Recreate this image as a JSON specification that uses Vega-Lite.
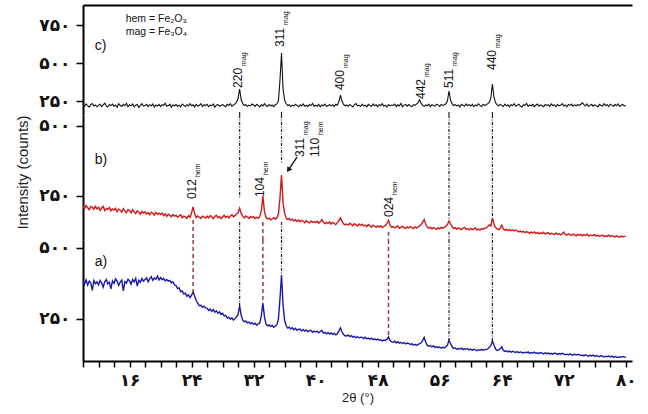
{
"$schema":"https://vega.github.io/schema/vega-lite/v6.json",
"padding":{"left":14,"top":5,"right":5,"bottom":5},
"background":"white",
"spacing":0,
"bounds":"flush",
"config":{
"view":{"stroke":null},
"axis":{"domainColor":"#000","domainWidth":2,"tickColor":"#000","tickWidth":1.5,"labelFont":"DejaVu Sans","labelFontWeight":"bold","labelFontSize":17,"labelColor":"#111","grid":false,"labelFlush":false,"labelOverlap":false,"titleFont":"Liberation Sans","titleFontWeight":"normal","titleColor":"#222"},
"axisY":{"tickSize":7,"labelPadding":6},
"axisX":{"tickSize":6,"labelPadding":5},
"text":{"font":"Liberation Sans","color":"#111"}
},
"datasets":{
"xrd":[
{"t":10,"c":228,"b":214,"a":380},{"t":10.2,"c":215,"b":205,"a":372},{"t":10.4,"c":231,"b":216,"a":388},{"t":10.6,"c":219,"b":208,"a":369},{"t":10.8,"c":210,"b":201,"a":383},
{"t":11,"c":226,"b":212,"a":376},{"t":11.2,"c":233,"b":210,"a":351},{"t":11.4,"c":217,"b":203,"a":385},{"t":11.6,"c":224,"b":213,"a":374},{"t":11.8,"c":212,"b":204,"a":381},
{"t":12,"c":221,"b":210,"a":370},{"t":12.2,"c":229,"b":199,"a":386},{"t":12.4,"c":213,"b":207,"a":377},{"t":12.6,"c":225,"b":213,"a":362},{"t":12.8,"c":236,"b":198,"a":381},
{"t":13,"c":218,"b":205,"a":389},{"t":13.2,"c":211,"b":202,"a":373},{"t":13.4,"c":227,"b":209,"a":379},{"t":13.6,"c":220,"b":197,"a":356},{"t":13.8,"c":230,"b":204,"a":384},
{"t":14,"c":216,"b":200,"a":375},{"t":14.2,"c":224,"b":206,"a":391},{"t":14.4,"c":209,"b":194,"a":383},{"t":14.6,"c":232,"b":203,"a":368},{"t":14.8,"c":222,"b":199,"a":380},
{"t":15,"c":214,"b":192,"a":387},{"t":15.2,"c":228,"b":205,"a":349},{"t":15.4,"c":219,"b":197,"a":382},{"t":15.6,"c":235,"b":190,"a":376},{"t":15.8,"c":213,"b":201,"a":390},
{"t":16,"c":225,"b":198,"a":384},{"t":16.2,"c":218,"b":190,"a":372},{"t":16.4,"c":230,"b":201,"a":389},{"t":16.6,"c":212,"b":193,"a":380},{"t":16.8,"c":223,"b":187,"a":393},
{"t":17,"c":227,"b":197,"a":366},{"t":17.2,"c":208,"b":192,"a":386},{"t":17.4,"c":221,"b":185,"a":379},{"t":17.6,"c":233,"b":195,"a":392},{"t":17.8,"c":216,"b":189,"a":383},
{"t":18,"c":220,"b":194,"a":389},{"t":18.2,"c":229,"b":186,"a":395},{"t":18.4,"c":214,"b":190,"a":381},{"t":18.6,"c":226,"b":183,"a":392},{"t":18.8,"c":218,"b":192,"a":399},
{"t":19,"c":231,"b":188,"a":386},{"t":19.2,"c":211,"b":181,"a":394},{"t":19.4,"c":224,"b":191,"a":390},{"t":19.6,"c":217,"b":185,"a":401},{"t":19.8,"c":228,"b":189,"a":387},
{"t":20,"c":213,"b":184,"a":396},{"t":20.2,"c":226,"b":189,"a":388},{"t":20.4,"c":222,"b":180,"a":393},{"t":20.6,"c":235,"b":186,"a":384},{"t":20.8,"c":215,"b":177,"a":389},
{"t":21,"c":220,"b":185,"a":383},{"t":21.2,"c":229,"b":181,"a":386},{"t":21.4,"c":210,"b":176,"a":377},{"t":21.6,"c":224,"b":184,"a":381},{"t":21.8,"c":219,"b":178,"a":370},
{"t":22,"c":227,"b":181,"a":368},{"t":22.2,"c":216,"b":174,"a":357},{"t":22.4,"c":223,"b":179,"a":359},{"t":22.6,"c":212,"b":183,"a":346},{"t":22.8,"c":230,"b":172,"a":349},
{"t":23,"c":221,"b":178,"a":338},{"t":23.2,"c":214,"b":176,"a":341},{"t":23.4,"c":226,"b":170,"a":330},{"t":23.6,"c":218,"b":180,"a":335},{"t":23.8,"c":233,"b":174,"a":325},
{"t":24,"c":219,"b":190,"a":334},{"t":24.2,"c":225,"b":211,"a":345},{"t":24.4,"c":211,"b":186,"a":330},{"t":24.6,"c":228,"b":173,"a":314},{"t":24.8,"c":217,"b":179,"a":306},
{"t":25,"c":222,"b":174,"a":297},{"t":25.2,"c":232,"b":170,"a":298},{"t":25.4,"c":214,"b":178,"a":291},{"t":25.6,"c":226,"b":175,"a":295},{"t":25.8,"c":220,"b":171,"a":289},
{"t":26,"c":229,"b":178,"a":288},{"t":26.2,"c":213,"b":172,"a":280},{"t":26.4,"c":224,"b":180,"a":285},{"t":26.6,"c":218,"b":175,"a":277},{"t":26.8,"c":231,"b":169,"a":283},
{"t":27,"c":210,"b":177,"a":274},{"t":27.2,"c":223,"b":181,"a":279},{"t":27.4,"c":227,"b":173,"a":270},{"t":27.6,"c":215,"b":176,"a":275},{"t":27.8,"c":221,"b":170,"a":266},
{"t":28,"c":226,"b":175,"a":270},{"t":28.2,"c":219,"b":181,"a":261},{"t":28.4,"c":212,"b":174,"a":263},{"t":28.6,"c":228,"b":178,"a":253},{"t":28.8,"c":221,"b":172,"a":256},
{"t":29,"c":233,"b":179,"a":249},{"t":29.2,"c":216,"b":183,"a":254},{"t":29.4,"c":224,"b":176,"a":246},{"t":29.6,"c":231,"b":180,"a":252},{"t":29.8,"c":242,"b":186,"a":258},
{"t":30,"c":268,"b":190,"a":266},{"t":30.2,"c":329,"b":207,"a":296},{"t":30.4,"c":258,"b":188,"a":263},{"t":30.6,"c":233,"b":178,"a":246},{"t":30.8,"c":220,"b":172,"a":240},
{"t":31,"c":227,"b":179,"a":243},{"t":31.2,"c":214,"b":175,"a":236},{"t":31.4,"c":223,"b":170,"a":239},{"t":31.6,"c":218,"b":177,"a":233},{"t":31.8,"c":230,"b":173,"a":237},
{"t":32,"c":224,"b":176,"a":231},{"t":32.2,"c":215,"b":169,"a":235},{"t":32.4,"c":229,"b":174,"a":228},{"t":32.6,"c":221,"b":171,"a":233},{"t":32.8,"c":211,"b":177,"a":236},
{"t":33,"c":226,"b":198,"a":262},{"t":33.2,"c":218,"b":250,"a":306},{"t":33.4,"c":232,"b":194,"a":258},{"t":33.6,"c":220,"b":174,"a":232},{"t":33.8,"c":214,"b":168,"a":226},
{"t":34,"c":227,"b":171,"a":229},{"t":34.2,"c":219,"b":165,"a":224},{"t":34.4,"c":224,"b":169,"a":227},{"t":34.6,"c":213,"b":173,"a":221},{"t":34.8,"c":226,"b":167,"a":225},
{"t":35,"c":231,"b":172,"a":230},{"t":35.2,"c":250,"b":185,"a":250},{"t":35.4,"c":385,"b":242,"a":320},{"t":35.6,"c":566,"b":325,"a":405},{"t":35.8,"c":330,"b":225,"a":300},
{"t":36,"c":256,"b":188,"a":245},{"t":36.2,"c":232,"b":172,"a":226},{"t":36.4,"c":220,"b":166,"a":218},{"t":36.6,"c":226,"b":170,"a":221},{"t":36.8,"c":214,"b":163,"a":215},
{"t":37,"c":223,"b":167,"a":219},{"t":37.2,"c":217,"b":161,"a":212},{"t":37.4,"c":229,"b":166,"a":217},{"t":37.6,"c":221,"b":159,"a":210},{"t":37.8,"c":212,"b":164,"a":214},
{"t":38,"c":225,"b":158,"a":214},{"t":38.2,"c":218,"b":163,"a":208},{"t":38.4,"c":231,"b":160,"a":213},{"t":38.6,"c":216,"b":155,"a":207},{"t":38.8,"c":222,"b":162,"a":211},
{"t":39,"c":213,"b":157,"a":205},{"t":39.2,"c":227,"b":154,"a":209},{"t":39.4,"c":220,"b":161,"a":210},{"t":39.6,"c":234,"b":156,"a":203},{"t":39.8,"c":215,"b":159,"a":207},
{"t":40,"c":223,"b":155,"a":204},{"t":40.2,"c":216,"b":160,"a":207},{"t":40.4,"c":228,"b":153,"a":201},{"t":40.6,"c":212,"b":158,"a":206},{"t":40.8,"c":224,"b":166,"a":210},
{"t":41,"c":219,"b":157,"a":200},{"t":41.2,"c":230,"b":151,"a":203},{"t":41.4,"c":214,"b":156,"a":198},{"t":41.6,"c":221,"b":152,"a":202},{"t":41.8,"c":226,"b":158,"a":197},
{"t":42,"c":218,"b":150,"a":201},{"t":42.2,"c":225,"b":156,"a":196},{"t":42.4,"c":213,"b":152,"a":199},{"t":42.6,"c":229,"b":148,"a":194},{"t":42.8,"c":222,"b":155,"a":198},
{"t":43,"c":246,"b":162,"a":207},{"t":43.2,"c":289,"b":172,"a":218},{"t":43.4,"c":250,"b":160,"a":205},{"t":43.6,"c":228,"b":151,"a":195},{"t":43.8,"c":219,"b":147,"a":191},
{"t":44,"c":224,"b":150,"a":190},{"t":44.2,"c":215,"b":146,"a":194},{"t":44.4,"c":227,"b":152,"a":188},{"t":44.6,"c":220,"b":149,"a":191},{"t":44.8,"c":211,"b":144,"a":186},
{"t":45,"c":226,"b":151,"a":189},{"t":45.2,"c":233,"b":147,"a":184},{"t":45.4,"c":218,"b":143,"a":188},{"t":45.6,"c":222,"b":150,"a":183},{"t":45.8,"c":214,"b":145,"a":186},
{"t":46,"c":229,"b":149,"a":185},{"t":46.2,"c":217,"b":143,"a":181},{"t":46.4,"c":223,"b":146,"a":186},{"t":46.6,"c":212,"b":141,"a":180},{"t":46.8,"c":228,"b":148,"a":183},
{"t":47,"c":221,"b":144,"a":178},{"t":47.2,"c":215,"b":139,"a":182},{"t":47.4,"c":231,"b":146,"a":177},{"t":47.6,"c":219,"b":142,"a":180},{"t":47.8,"c":225,"b":138,"a":176},
{"t":48,"c":213,"b":144,"a":179},{"t":48.2,"c":226,"b":139,"a":175},{"t":48.4,"c":220,"b":143,"a":177},{"t":48.6,"c":232,"b":137,"a":173},{"t":48.8,"c":216,"b":141,"a":176},
{"t":49,"c":223,"b":145,"a":174},{"t":49.2,"c":210,"b":152,"a":178},{"t":49.4,"c":227,"b":163,"a":187},{"t":49.6,"c":218,"b":146,"a":175},{"t":49.8,"c":224,"b":138,"a":169},
{"t":50,"c":221,"b":141,"a":168},{"t":50.2,"c":230,"b":136,"a":172},{"t":50.4,"c":214,"b":140,"a":166},{"t":50.6,"c":225,"b":143,"a":170},{"t":50.8,"c":218,"b":135,"a":165},
{"t":51,"c":234,"b":139,"a":168},{"t":51.2,"c":212,"b":142,"a":163},{"t":51.4,"c":223,"b":137,"a":167},{"t":51.6,"c":228,"b":134,"a":162},{"t":51.8,"c":216,"b":140,"a":165},
{"t":52,"c":227,"b":136,"a":164},{"t":52.2,"c":219,"b":141,"a":160},{"t":52.4,"c":213,"b":137,"a":163},{"t":52.6,"c":226,"b":134,"a":158},{"t":52.8,"c":221,"b":140,"a":161},
{"t":53,"c":230,"b":136,"a":157},{"t":53.2,"c":238,"b":139,"a":160},{"t":53.4,"c":258,"b":143,"a":163},{"t":53.6,"c":236,"b":148,"a":166},{"t":53.8,"c":222,"b":157,"a":174},
{"t":54,"c":215,"b":166,"a":185},{"t":54.2,"c":224,"b":150,"a":168},{"t":54.4,"c":219,"b":139,"a":157},{"t":54.6,"c":230,"b":135,"a":154},{"t":54.8,"c":212,"b":138,"a":156},
{"t":55,"c":226,"b":133,"a":152},{"t":55.2,"c":220,"b":137,"a":155},{"t":55.4,"c":217,"b":134,"a":150},{"t":55.6,"c":229,"b":131,"a":153},{"t":55.8,"c":223,"b":136,"a":149},
{"t":56,"c":214,"b":133,"a":151},{"t":56.2,"c":227,"b":138,"a":147},{"t":56.4,"c":221,"b":135,"a":150},{"t":56.6,"c":225,"b":139,"a":148},{"t":56.8,"c":232,"b":142,"a":152},
{"t":57,"c":252,"b":148,"a":158},{"t":57.2,"c":316,"b":161,"a":176},{"t":57.4,"c":256,"b":150,"a":163},{"t":57.6,"c":233,"b":140,"a":152},{"t":57.8,"c":220,"b":134,"a":146},
{"t":58,"c":226,"b":137,"a":148},{"t":58.2,"c":218,"b":132,"a":143},{"t":58.4,"c":224,"b":136,"a":146},{"t":58.6,"c":211,"b":133,"a":144},{"t":58.8,"c":229,"b":130,"a":147},
{"t":59,"c":222,"b":135,"a":142},{"t":59.2,"c":215,"b":138,"a":145},{"t":59.4,"c":231,"b":131,"a":143},{"t":59.6,"c":220,"b":134,"a":146},{"t":59.8,"c":226,"b":129,"a":141},
{"t":60,"c":217,"b":134,"a":144},{"t":60.2,"c":228,"b":130,"a":140},{"t":60.4,"c":213,"b":133,"a":143},{"t":60.6,"c":224,"b":136,"a":141},{"t":60.8,"c":219,"b":129,"a":138},
{"t":61,"c":232,"b":132,"a":142},{"t":61.2,"c":221,"b":128,"a":139},{"t":61.4,"c":214,"b":134,"a":143},{"t":61.6,"c":227,"b":131,"a":140},{"t":61.8,"c":222,"b":135,"a":142},
{"t":62,"c":226,"b":136,"a":142},{"t":62.2,"c":233,"b":141,"a":145},{"t":62.4,"c":241,"b":147,"a":150},{"t":62.6,"c":272,"b":143,"a":156},{"t":62.8,"c":362,"b":172,"a":173},
{"t":63,"c":275,"b":150,"a":158},{"t":63.2,"c":240,"b":137,"a":144},{"t":63.4,"c":225,"b":133,"a":139},{"t":63.6,"c":218,"b":130,"a":141},{"t":63.8,"c":228,"b":135,"a":145},
{"t":64,"c":221,"b":146,"a":152},{"t":64.2,"c":214,"b":133,"a":140},{"t":64.4,"c":230,"b":128,"a":136},{"t":64.6,"c":218,"b":131,"a":138},{"t":64.8,"c":225,"b":127,"a":134},
{"t":65,"c":212,"b":130,"a":137},{"t":65.2,"c":227,"b":126,"a":133},{"t":65.4,"c":220,"b":129,"a":136},{"t":65.6,"c":233,"b":125,"a":134},{"t":65.8,"c":216,"b":128,"a":132},
{"t":66,"c":223,"b":126,"a":135},{"t":66.2,"c":229,"b":122,"a":131},{"t":66.4,"c":217,"b":125,"a":134},{"t":66.6,"c":211,"b":121,"a":132},{"t":66.8,"c":226,"b":124,"a":130},
{"t":67,"c":221,"b":119,"a":133},{"t":67.2,"c":234,"b":123,"a":131},{"t":67.4,"c":215,"b":120,"a":134},{"t":67.6,"c":224,"b":117,"a":129},{"t":67.8,"c":219,"b":122,"a":132},
{"t":68,"c":228,"b":118,"a":130},{"t":68.2,"c":213,"b":122,"a":133},{"t":68.4,"c":222,"b":117,"a":129},{"t":68.6,"c":230,"b":120,"a":131},{"t":68.8,"c":216,"b":115,"a":128},
{"t":69,"c":225,"b":119,"a":132},{"t":69.2,"c":219,"b":116,"a":130},{"t":69.4,"c":212,"b":121,"a":127},{"t":69.6,"c":227,"b":114,"a":131},{"t":69.8,"c":221,"b":118,"a":128},
{"t":70,"c":226,"b":119,"a":130},{"t":70.2,"c":215,"b":114,"a":127},{"t":70.4,"c":231,"b":117,"a":129},{"t":70.6,"c":220,"b":115,"a":126},{"t":70.8,"c":224,"b":112,"a":130},
{"t":71,"c":213,"b":118,"a":128},{"t":71.2,"c":228,"b":113,"a":125},{"t":71.4,"c":218,"b":116,"a":128},{"t":71.6,"c":222,"b":111,"a":126},{"t":71.8,"c":233,"b":115,"a":129},
{"t":72,"c":217,"b":121,"a":127},{"t":72.2,"c":224,"b":113,"a":124},{"t":72.4,"c":212,"b":110,"a":126},{"t":72.6,"c":227,"b":115,"a":123},{"t":72.8,"c":221,"b":112,"a":127},
{"t":73,"c":230,"b":109,"a":124},{"t":73.2,"c":216,"b":114,"a":122},{"t":73.4,"c":225,"b":111,"a":126},{"t":73.6,"c":219,"b":108,"a":123},{"t":73.8,"c":226,"b":113,"a":125},
{"t":74,"c":222,"b":110,"a":124},{"t":74.2,"c":229,"b":113,"a":121},{"t":74.4,"c":238,"b":108,"a":123},{"t":74.6,"c":226,"b":112,"a":120},{"t":74.8,"c":218,"b":109,"a":124},
{"t":75,"c":231,"b":114,"a":121},{"t":75.2,"c":214,"b":107,"a":119},{"t":75.4,"c":223,"b":111,"a":122},{"t":75.6,"c":227,"b":108,"a":120},{"t":75.8,"c":216,"b":110,"a":123},
{"t":76,"c":225,"b":112,"a":118},{"t":76.2,"c":219,"b":107,"a":121},{"t":76.4,"c":212,"b":110,"a":119},{"t":76.6,"c":228,"b":106,"a":117},{"t":76.8,"c":221,"b":109,"a":121},
{"t":77,"c":217,"b":111,"a":118},{"t":77.2,"c":233,"b":105,"a":116},{"t":77.4,"c":220,"b":108,"a":119},{"t":77.6,"c":226,"b":106,"a":117},{"t":77.8,"c":214,"b":110,"a":120},
{"t":78,"c":229,"b":105,"a":116},{"t":78.2,"c":223,"b":109,"a":119},{"t":78.4,"c":216,"b":106,"a":115},{"t":78.6,"c":227,"b":104,"a":118},{"t":78.8,"c":219,"b":108,"a":116},
{"t":79,"c":231,"b":105,"a":114},{"t":79.2,"c":214,"b":103,"a":117},{"t":79.4,"c":222,"b":107,"a":115},{"t":79.6,"c":228,"b":104,"a":118},{"t":79.8,"c":218,"b":106,"a":116},
{"t":80,"c":221,"b":106,"a":115}
],
"rules":[
{"p":"c","k":"mag","t":30.2,"y1":178,"y2":158},{"p":"c","k":"mag","t":35.6,"y1":178,"y2":158},{"p":"c","k":"mag","t":57.2,"y1":178,"y2":158},{"p":"c","k":"mag","t":62.8,"y1":178,"y2":158},
{"p":"b","k":"mag","t":30.2,"y1":539,"y2":243},{"p":"b","k":"mag","t":30.2,"y1":157,"y2":93},{"p":"b","k":"mag","t":35.6,"y1":539,"y2":368},{"p":"b","k":"mag","t":35.6,"y1":157,"y2":93},
{"p":"b","k":"mag","t":57.2,"y1":539,"y2":164},{"p":"b","k":"mag","t":57.2,"y1":122,"y2":93},{"p":"b","k":"mag","t":62.8,"y1":539,"y2":175},{"p":"b","k":"mag","t":62.8,"y1":118,"y2":93},
{"p":"b","k":"hem","t":24.2,"y1":164,"y2":93},{"p":"b","k":"hem","t":33.2,"y1":157,"y2":93},{"p":"b","k":"hem","t":49.4,"y1":122,"y2":93},
{"p":"a","k":"mag","t":30.2,"y1":528,"y2":296},{"p":"a","k":"mag","t":35.6,"y1":528,"y2":405},{"p":"a","k":"mag","t":57.2,"y1":528,"y2":176},{"p":"a","k":"mag","t":62.8,"y1":528,"y2":172},
{"p":"a","k":"hem","t":24.2,"y1":528,"y2":345},{"p":"a","k":"hem","t":33.2,"y1":528,"y2":306},{"p":"a","k":"hem","t":49.4,"y1":528,"y2":186}
],
"peaks":[
{"p":"c","t":30.05,"v":336,"n":"220","s":"mag"},{"p":"c","t":35.4,"v":606,"n":"311","s":"mag"},{"p":"c","t":43.2,"v":322,"n":"400","s":"mag"},
{"p":"c","t":53.6,"v":263,"n":"442","s":"mag"},{"p":"c","t":57.14,"v":336,"n":"511","s":"mag"},{"p":"c","t":62.7,"v":454,"n":"440","s":"mag"},
{"p":"b","t":24.0,"v":239,"n":"012","s":"hem"},{"p":"b","t":32.83,"v":246,"n":"104","s":"hem"},{"p":"b","t":37.99,"v":389,"n":"311","s":"mag"},
{"p":"b","t":39.92,"v":389,"n":"110","s":"hem"},{"p":"b","t":49.4,"v":175,"n":"024","s":"hem"}
],
"panels":[
{"p":"c","t":11.5,"v":612,"s":"c)"},{"p":"b","t":11.5,"v":378,"s":"b)"},{"p":"a","t":11.5,"v":450,"s":"a)"}
]
},
"vconcat":[
{
"width":549,"height":110,
"layer":[
{"data":{"name":"xrd"},"mark":{"type":"line","color":"#111","strokeWidth":1.1,"clip":true},
"encoding":{
"x":{"field":"t","type":"quantitative","scale":{"domain":[10,80.8],"nice":false,"zero":false},"axis":{"orient":"top","labels":false,"ticks":false,"title":null,"domain":true}},
"y":{"field":"c","type":"quantitative","scale":{"domain":[158,882],"nice":false,"zero":false},"axis":{"values":[250,500,750],"tickCount":10,"title":null,"labelExpr":"datum.value==250?'۲۵۰':datum.value==500?'۵۰۰':'۷۵۰'"}}}},
{"data":{"name":"rules"},"transform":[{"filter":"datum.p=='c'"}],"mark":{"type":"rule","color":"#222","strokeWidth":1.2,"strokeDash":[3,1.5,1,1.5]},
"encoding":{"x":{"field":"t","type":"quantitative"},"y":{"field":"y1","type":"quantitative"},"y2":{"field":"y2"}}},
{"mark":{"type":"rule","color":"#000","strokeWidth":2},"encoding":{"x":{"datum":80.8}}},
{"data":{"name":"peaks"},"transform":[{"filter":"datum.p=='c'"}],"mark":{"type":"text","angle":270,"align":"left","baseline":"middle","fontSize":12},
"encoding":{"x":{"field":"t","type":"quantitative"},"y":{"field":"v","type":"quantitative"},"text":{"field":"n"}}},
{"data":{"name":"peaks"},"transform":[{"filter":"datum.p=='c'"}],"mark":{"type":"text","angle":270,"align":"left","baseline":"middle","fontSize":7,"dx":22,"dy":6},
"encoding":{"x":{"field":"t","type":"quantitative"},"y":{"field":"v","type":"quantitative"},"text":{"field":"s"}}},
{"data":{"name":"panels"},"transform":[{"filter":"datum.p=='c'"}],"mark":{"type":"text","align":"left","baseline":"middle","fontSize":14},
"encoding":{"x":{"field":"t","type":"quantitative"},"y":{"field":"v","type":"quantitative"},"text":{"field":"s"}}},
{"data":{"values":[{"t":15.5,"v":790,"s":"hem = Fe₂O₃"},{"t":15.5,"v":704,"s":"mag = Fe₃O₄"}]},"mark":{"type":"text","align":"left","baseline":"middle","fontSize":10.5},
"encoding":{"x":{"field":"t","type":"quantitative"},"y":{"field":"v","type":"quantitative"},"text":{"field":"s"}}}
]
},
{
"width":549,"height":125,
"layer":[
{"data":{"name":"xrd"},"mark":{"type":"line","color":"#d01818","strokeWidth":1.4,"clip":true},
"encoding":{
"x":{"field":"t","type":"quantitative","scale":{"domain":[10,80.8],"nice":false,"zero":false},"axis":null},
"y":{"field":"b","type":"quantitative","scale":{"domain":[93,539],"nice":false,"zero":false},"axis":{"values":[250,500],"tickCount":10,"title":"Intensity (counts)","titleFontSize":15,"titleX":-61,"titleY":57,"titleBaseline":"middle","titleAngle":270,"titleAlign":"center","labelExpr":"datum.value==250?'۲۵۰':'۵۰۰'"}}}},
{"data":{"name":"rules"},"transform":[{"filter":"datum.p=='b' && datum.k=='mag'"}],"mark":{"type":"rule","color":"#222","strokeWidth":1.2,"strokeDash":[3,1.5,1,1.5]},
"encoding":{"x":{"field":"t","type":"quantitative"},"y":{"field":"y1","type":"quantitative"},"y2":{"field":"y2"}}},
{"data":{"name":"rules"},"transform":[{"filter":"datum.p=='b' && datum.k=='hem'"}],"mark":{"type":"rule","color":"#a33a3a","strokeWidth":1.5,"strokeDash":[4,3]},
"encoding":{"x":{"field":"t","type":"quantitative"},"y":{"field":"y1","type":"quantitative"},"y2":{"field":"y2"}}},
{"mark":{"type":"rule","color":"#000","strokeWidth":2},"encoding":{"x":{"datum":80.8}}},
{"data":{"name":"peaks"},"transform":[{"filter":"datum.p=='b'"}],"mark":{"type":"text","angle":270,"align":"left","baseline":"middle","fontSize":12},
"encoding":{"x":{"field":"t","type":"quantitative"},"y":{"field":"v","type":"quantitative"},"text":{"field":"n"}}},
{"data":{"name":"peaks"},"transform":[{"filter":"datum.p=='b'"}],"mark":{"type":"text","angle":270,"align":"left","baseline":"middle","fontSize":7,"dx":22,"dy":6},
"encoding":{"x":{"field":"t","type":"quantitative"},"y":{"field":"v","type":"quantitative"},"text":{"field":"s"}}},
{"data":{"values":[{"t1":37.6,"v1":389,"t2":36.49,"v2":343}]},"mark":{"type":"rule","color":"#111","strokeWidth":1.3},
"encoding":{"x":{"field":"t1","type":"quantitative"},"y":{"field":"v1","type":"quantitative"},"x2":{"field":"t2"},"y2":{"field":"v2"}}},
{"data":{"values":[{"t2":36.49,"v2":343}]},"mark":{"type":"point","shape":"triangle-up","filled":true,"color":"#111","size":35,"angle":214,"opacity":1},
"encoding":{"x":{"field":"t2","type":"quantitative"},"y":{"field":"v2","type":"quantitative"}}},
{"data":{"name":"panels"},"transform":[{"filter":"datum.p=='b'"}],"mark":{"type":"text","align":"left","baseline":"middle","fontSize":14},
"encoding":{"x":{"field":"t","type":"quantitative"},"y":{"field":"v","type":"quantitative"},"text":{"field":"s"}}}
]
},
{
"width":549,"height":121,
"layer":[
{"data":{"name":"xrd"},"mark":{"type":"line","color":"#1a1aa8","strokeWidth":1.4,"clip":true},
"encoding":{
"x":{"field":"t","type":"quantitative","scale":{"domain":[10,80.8],"nice":false,"zero":false},"axis":{"values":[10,12,14,16,18,20,22,24,26,28,30,32,34,36,38,40,42,44,46,48,50,52,54,56,58,60,62,64,66,68,70,72,74,76,78,80],"tickCount":100,"title":"2θ (°)","titleFontSize":13,"titleY":36,"titleBaseline":"middle","labelExpr":"datum.value==16?'۱۶':datum.value==24?'۲۴':datum.value==32?'۳۲':datum.value==40?'۴۰':datum.value==48?'۴۸':datum.value==56?'۵۶':datum.value==64?'۶۴':datum.value==72?'۷۲':datum.value==80?'۸۰':''"}},
"y":{"field":"a","type":"quantitative","scale":{"domain":[102,528],"nice":false,"zero":false},"axis":{"values":[250,500],"tickCount":10,"title":null,"labelExpr":"datum.value==250?'۲۵۰':'۵۰۰'"}}}},
{"data":{"name":"rules"},"transform":[{"filter":"datum.p=='a' && datum.k=='mag'"}],"mark":{"type":"rule","color":"#222","strokeWidth":1.2,"strokeDash":[3,1.5,1,1.5]},
"encoding":{"x":{"field":"t","type":"quantitative"},"y":{"field":"y1","type":"quantitative"},"y2":{"field":"y2"}}},
{"data":{"name":"rules"},"transform":[{"filter":"datum.p=='a' && datum.k=='hem'"}],"mark":{"type":"rule","color":"#a33a3a","strokeWidth":1.5,"strokeDash":[4,3]},
"encoding":{"x":{"field":"t","type":"quantitative"},"y":{"field":"y1","type":"quantitative"},"y2":{"field":"y2"}}},
{"mark":{"type":"rule","color":"#000","strokeWidth":2},"encoding":{"x":{"datum":80.8}}},
{"data":{"name":"panels"},"transform":[{"filter":"datum.p=='a'"}],"mark":{"type":"text","align":"left","baseline":"middle","fontSize":14},
"encoding":{"x":{"field":"t","type":"quantitative"},"y":{"field":"v","type":"quantitative"},"text":{"field":"s"}}}
]
}
]
}
